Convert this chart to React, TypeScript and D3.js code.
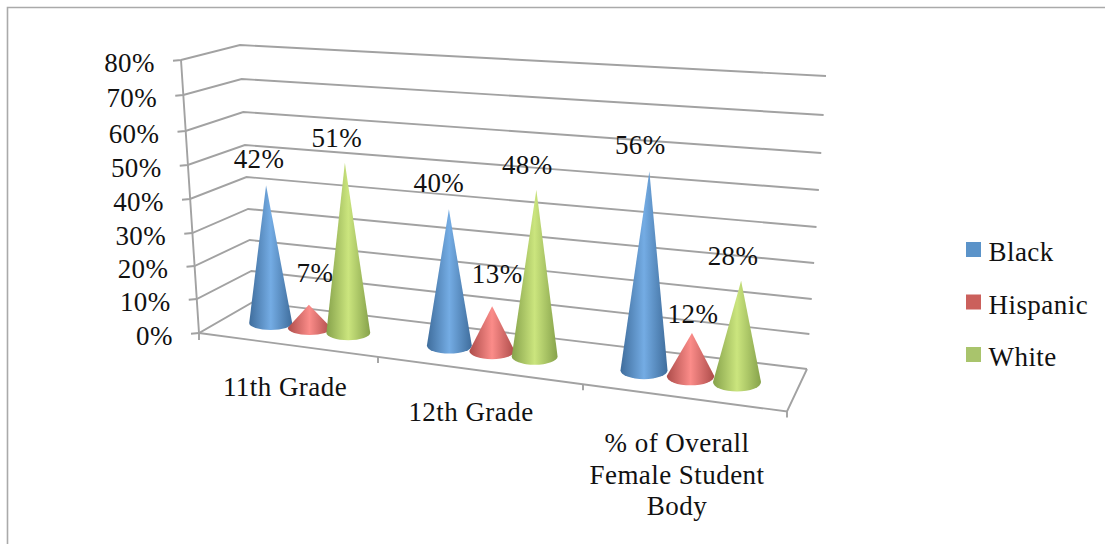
import React from "react";
import * as d3 from "d3";

const categories = ["11th Grade", "12th Grade", "% of Overall Female Student Body"];
const seriesNames = ["Black", "Hispanic", "White"];
const black = [42, 40, 56];
const hispanic = [7, 13, 12];
const white = [51, 48, 28];
const seriesValues = [black, hispanic, white];
const ticks = [0, 10, 20, 30, 40, 50, 60, 70, 80];

const FONT = "'Liberation Serif', serif";
const FS = 27;
const LS = 0.45;
const GRID = "#a2a2a2";
const TEXT = "#111";

// wall geometry: pixel position of each axis tick on the three wall corners
const frontLeftX = d3.scaleLinear().domain([0, 80]).range([199, 181]);
const frontLeftY = d3.scaleLinear().domain(ticks).range([333, 299, 266, 233, 199, 165, 131, 95, 60]);
const backLeftX = d3.scaleLinear().domain([0, 80]).range([253, 240]);
const backLeftY = d3.scaleLinear().domain(ticks).range([302, 271, 240, 209, 177, 145, 112, 79, 45]);
const backRightX = d3.scaleLinear().domain([0, 80]).range([807, 826]);
const backRightY = d3.scaleLinear().domain(ticks).range([369, 334, 299, 263, 227, 190, 153, 115, 76]);
const floorFront = { x: 787, y: 411.5 };

// cone placement
const catCentre = d3.scaleLinear().domain([0, 1, 2]).range([309.5, 492, 690.5]);
const seriesStep = d3.scaleLinear().domain([0, 2]).range([38.8, 46.5]);
const baseY = d3.scaleLinear().domain([271, 737]).range([323, 382]);
const pxPerPct = d3.scaleLinear().domain([271, 737]).range([3.28, 3.62]);
const leanPerPct = d3.scaleLinear().domain([271, 737]).range([-0.11, 0.147]);
const radius = d3.scaleLinear().domain([271, 737]).range([21.5, 24]);
const ellipseRy = d3.scaleLinear().domain([271, 737]).range([7, 9.5]);

const legendColors = ["#5b93c9", "#cb605c", "#a9c46c"];
const gradStops = [
  ["#3f6d9c", "#74ace4"],
  ["#ad4c4a", "#fb8c89"],
  ["#86a24b", "#cbe57e"],
];

// label offsets from each cone tip, [dx, dy] by series and category
const labelOffsets = [
  [[-7, -17], [-10, -17], [-9, -17]],
  [[6, -23], [5, -23], [1, -10]],
  [[-8, -16], [-9, -16], [-8, -16]],
];

const categoryLines = [["11th Grade"], ["12th Grade"], ["% of Overall", "Female Student", "Body"]];
const categoryAnchor = [
  { x: 285, y: 396 },
  { x: 471, y: 421 },
  { x: 677, y: 452 },
];

const line = d3.line();

function Txt(props: any) {
  return (
    <text fontFamily={FONT} fontSize={FS} letterSpacing={LS} fill={TEXT} {...props}>
      {props.children}
    </text>
  );
}

export default function App() {
  const cones = seriesValues.flatMap((vals, s) =>
    vals.map((v, c) => {
      const cx = catCentre(c) + (s - 1) * seriesStep(c);
      const cy = baseY(cx);
      const r = radius(cx);
      const ry = ellipseRy(cx);
      const tx = cx + v * leanPerPct(cx);
      const ty = cy - v * pxPerPct(cx);
      const d = `M${tx},${ty}L${cx - r},${cy}A${r},${ry} 0 0 0 ${cx + r},${cy}Z`;
      return { s, c, v, d, tx, ty };
    })
  );

  return (
    <svg
      width={1105}
      height={544}
      viewBox="0 0 1105 544"
      style={{ position: "absolute", left: 0, top: 0, background: "#fff" }}
    >
      <defs>
        {gradStops.map(([edge, mid], i) => (
          <linearGradient key={i} id={`cone${i}`} x1="0" x2="1" y1="0" y2="0">
            <stop offset="0" stopColor={edge} />
            <stop offset="0.5" stopColor={mid} />
            <stop offset="1" stopColor={edge} />
          </linearGradient>
        ))}
      </defs>

      <path d="M7.5,544V7.5H1105" fill="none" stroke="#aaa" strokeWidth={1.6} />

      <g fill="none" stroke={GRID} strokeWidth={1.9}>
        {ticks.map((t) => (
          <path
            key={t}
            d={
              line([
                [frontLeftX(t) - 8, frontLeftY(t) + 0.7],
                [frontLeftX(t), frontLeftY(t)],
                [backLeftX(t), backLeftY(t)],
                [backRightX(t), backRightY(t)],
              ]) as string
            }
          />
        ))}
        <path d={line([[frontLeftX(80), frontLeftY(80)], [frontLeftX(0), frontLeftY(0)], [frontLeftX(0), frontLeftY(0) + 7]]) as string} />
        <path
          d={
            line([
              [frontLeftX(0), frontLeftY(0)],
              [floorFront.x, floorFront.y],
              [backRightX(0), backRightY(0)],
            ]) as string
          }
        />
        <path d={line([[floorFront.x, floorFront.y], [floorFront.x, floorFront.y + 6]]) as string} />
        {[1, 2].map((c) => {
          const x = d3.scaleLinear().domain([0, 3]).range([frontLeftX(0), floorFront.x])(c) - (c === 1 ? 17 : 8);
          const y = d3.scaleLinear().domain([frontLeftX(0), floorFront.x]).range([frontLeftY(0), floorFront.y])(x);
          return <path key={c} d={line([[x, y], [x, y + 6]]) as string} />;
        })}
      </g>

      {ticks.map((t) => (
        <Txt key={t} x={frontLeftX(t) - 26} y={frontLeftY(t) + 11.5} textAnchor="end">
          {t}%
        </Txt>
      ))}

      {cones.map((k) => (
        <path key={`${k.s}-${k.c}`} d={k.d} fill={`url(#cone${k.s})`} />
      ))}

      {cones.map((k) => (
        <Txt
          key={`l${k.s}-${k.c}`}
          x={k.tx + labelOffsets[k.s][k.c][0]}
          y={k.ty + labelOffsets[k.s][k.c][1]}
          textAnchor="middle"
        >
          {k.v}%
        </Txt>
      ))}

      {categories.map((name, c) =>
        categoryLines[c].map((ln, i) => (
          <Txt key={`${name}${i}`} x={categoryAnchor[c].x} y={categoryAnchor[c].y + i * 31.5} textAnchor="middle">
            {ln}
          </Txt>
        ))
      )}

      {seriesNames.map((name, i) => {
        const y = d3.scaleLinear().domain([0, 2]).range([242, 347])(i);
        return (
          <g key={name}>
            <rect x={966} y={y} width={15} height={15} fill={legendColors[i]} />
            <Txt x={988.5} y={y + 19}>
              {name}
            </Txt>
          </g>
        );
      })}
    </svg>
  );
}
